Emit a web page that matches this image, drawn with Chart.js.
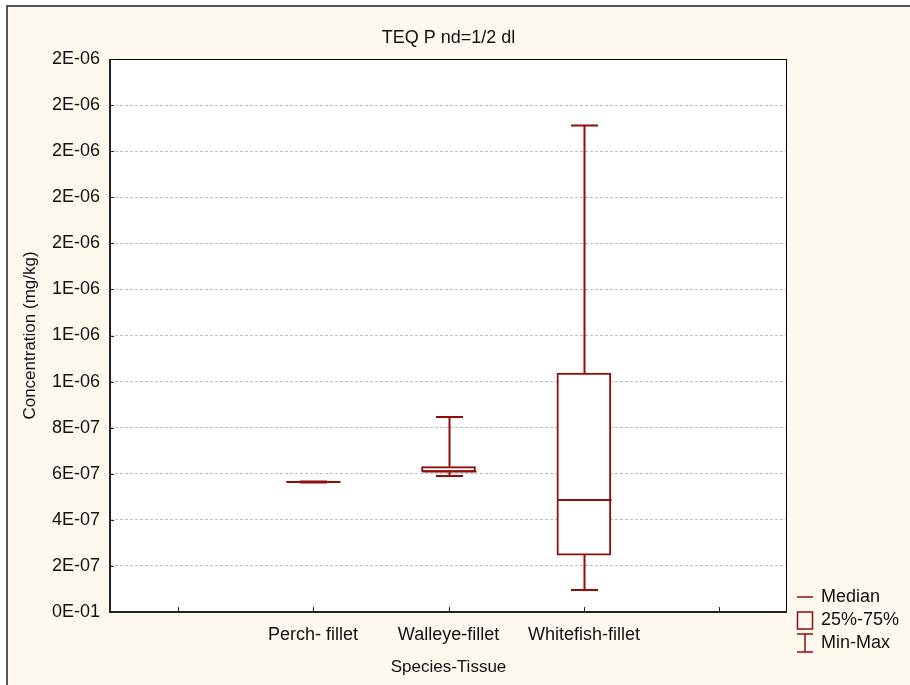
<!DOCTYPE html>
<html>
<head>
<meta charset="utf-8">
<title>TEQ P nd=1/2 dl</title>
<script src="https://cdn.jsdelivr.net/npm/chart.js@4"></script>
<style>
  html, body { margin: 0; padding: 0; background: #ffffff; }
  #wrap { width: 910px; height: 685px; }
</style>
</head>
<body>
<div id="wrap"><canvas id="boxChart" width="910" height="685"></canvas></div>
<script>
// --- Data ---
const categories = ['', 'Perch- fillet', 'Walleye-fillet', 'Whitefish-fillet', ''];
const minValues    = [null, 5.62e-7, 5.90e-7, 0.95e-7, null];
const q1Values     = [null, 5.62e-7, 6.08e-7, 2.47e-7, null];
const medianValues = [null, 5.64e-7, 6.10e-7, 4.86e-7, null];
const q3Values     = [null, 5.65e-7, 6.31e-7, 10.37e-7, null];
const maxValues    = [null, 5.66e-7, 8.46e-7, 21.11e-7, null];

const yTickValues = [0, 2e-7, 4e-7, 6e-7, 8e-7, 1.0e-6, 1.2e-6, 1.4e-6, 1.6e-6, 1.8e-6, 2.0e-6, 2.2e-6, 2.4e-6];
const yTickLabels = ['0E-01', '2E-07', '4E-07', '6E-07', '8E-07', '1E-06', '1E-06', '1E-06', '2E-06', '2E-06', '2E-06', '2E-06', '2E-06'];

const chartTitle = 'TEQ P nd=1/2 dl';
const legendItems = ['Median', '25%-75%', 'Min-Max'];

const boxColor = '#8e0e0e';
const textColor = '#111111';
const fontFamily = '"Liberation Sans", Arial, sans-serif';

// --- Background, frame, whiskers, medians, title and legend ---
const boxPlotPlugin = {
    id: 'boxPlot',
    beforeDraw(chart) {
        const { ctx, chartArea: a } = chart;
        ctx.save();
        ctx.fillStyle = '#fef9ee';
        ctx.fillRect(7, 6, chart.width - 7, chart.height - 6);
        ctx.strokeStyle = '#555555';
        ctx.lineWidth = 2;
        ctx.beginPath();
        ctx.moveTo(7, chart.height);
        ctx.lineTo(7, 6);
        ctx.lineTo(chart.width, 6);
        ctx.stroke();
        ctx.fillStyle = '#ffffff';
        ctx.fillRect(a.left, a.top, a.right - a.left, a.bottom - a.top);
        ctx.restore();
    },
    afterDatasetsDraw(chart) {
        const { ctx } = chart;
        const x = chart.scales.x, y = chart.scales.y;
        const capHalf = 13.5, boxHalf = 27;
        ctx.save();
        ctx.strokeStyle = boxColor;
        ctx.lineWidth = 2;
        categories.forEach((c, i) => {
            if (medianValues[i] == null) return;
            const cx = Math.round(x.getPixelForValue(i)) + 0.5;
            const yMin = y.getPixelForValue(minValues[i]);
            const yQ1 = y.getPixelForValue(q1Values[i]);
            const yMed = y.getPixelForValue(medianValues[i]);
            const yQ3 = y.getPixelForValue(q3Values[i]);
            const yMax = y.getPixelForValue(maxValues[i]);
            ctx.beginPath();
            // whiskers
            ctx.moveTo(cx, yQ3); ctx.lineTo(cx, yMax);
            ctx.moveTo(cx, yQ1); ctx.lineTo(cx, yMin);
            // caps
            ctx.moveTo(cx - capHalf, yMax); ctx.lineTo(cx + capHalf, yMax);
            ctx.moveTo(cx - capHalf, yMin); ctx.lineTo(cx + capHalf, yMin);
            // median
            ctx.moveTo(cx - boxHalf, yMed); ctx.lineTo(cx + boxHalf, yMed);
            ctx.stroke();
        });
        ctx.restore();
    },
    afterDraw(chart) {
        const { ctx, chartArea: a } = chart;
        const x = chart.scales.x, y = chart.scales.y;
        ctx.save();
        // plot frame
        ctx.strokeStyle = '#000000';
        ctx.lineWidth = 1;
        ctx.strokeRect(a.left + 0.5, a.top + 0.5, a.right - a.left - 1, a.bottom - a.top - 1);
        ctx.strokeStyle = '#222222';
        ctx.lineWidth = 2;
        ctx.beginPath();
        ctx.moveTo(a.left, a.top);
        ctx.lineTo(a.left, a.bottom);
        ctx.lineTo(a.right, a.bottom);
        ctx.stroke();
        // tick marks inside the frame
        ctx.lineWidth = 1;
        ctx.beginPath();
        categories.forEach((c, i) => {
            const px = Math.round(x.getPixelForValue(i)) + 0.5;
            ctx.moveTo(px, a.bottom);
            ctx.lineTo(px, a.bottom - 5);
        });
        yTickValues.forEach(v => {
            const py = Math.round(y.getPixelForValue(v)) + 0.5;
            ctx.moveTo(a.left, py);
            ctx.lineTo(a.left + 4, py);
        });
        ctx.stroke();

        // title, centred over the plot area
        ctx.fillStyle = textColor;
        ctx.font = '18px ' + fontFamily;
        ctx.textAlign = 'center';
        ctx.textBaseline = 'middle';
        ctx.fillText(chartTitle, (a.left + a.right) / 2, 38);

        // legend
        const lx = a.right + 10, tx = a.right + 34;
        const rowY = [a.bottom - 15, a.bottom + 8, a.bottom + 31];
        ctx.strokeStyle = boxColor;
        ctx.lineWidth = 1.5;
        ctx.beginPath();
        ctx.moveTo(lx, rowY[0]); ctx.lineTo(lx + 16, rowY[0]);
        ctx.stroke();
        ctx.strokeRect(lx + 0.5, rowY[1] - 8, 15, 17);
        ctx.beginPath();
        ctx.moveTo(lx, rowY[2] - 9); ctx.lineTo(lx + 16, rowY[2] - 9);
        ctx.moveTo(lx + 8, rowY[2] - 9); ctx.lineTo(lx + 8, rowY[2] + 9);
        ctx.moveTo(lx, rowY[2] + 9); ctx.lineTo(lx + 16, rowY[2] + 9);
        ctx.stroke();
        ctx.textAlign = 'left';
        legendItems.forEach((t, i) => ctx.fillText(t, tx, rowY[i]));
        ctx.restore();
    }
};

Chart.defaults.font.family = fontFamily;
Chart.defaults.color = textColor;

new Chart(document.getElementById('boxChart'), {
    type: 'bar',
    data: {
        labels: categories,
        datasets: [{
            label: '25%-75%',
            data: categories.map((c, i) => q1Values[i] == null ? null : [q1Values[i], q3Values[i]]),
            backgroundColor: '#ffffff',
            borderColor: boxColor,
            borderWidth: 2,
            borderSkipped: false,
            barThickness: 54
        }]
    },
    options: {
        responsive: false,
        animation: false,
        devicePixelRatio: 1,
        layout: { padding: { left: 0, right: 123, top: 59, bottom: 0 } },
        plugins: {
            legend: { display: false },
            tooltip: { enabled: false },
            title: { display: false }
        },
        scales: {
            x: {
                offset: true,
                grid: { display: false, drawTicks: false },
                border: { display: false },
                ticks: { font: { size: 18 }, padding: 12, autoSkip: false, maxRotation: 0 },
                title: { display: true, text: 'Species-Tissue', font: { size: 17 }, padding: { top: 0, bottom: 7 } },
                afterFit(scale) { scale.height = 73; }
            },
            y: {
                min: 0,
                max: 2.4e-6,
                grid: { color: '#bdbdbd', lineWidth: 1, drawTicks: false },
                border: { display: false, dash: [3, 2] },
                ticks: {
                    font: { size: 18 },
                    padding: 10,
                    autoSkip: false,
                    callback: (v, i) => yTickLabels[i]
                },
                afterBuildTicks(scale) { scale.ticks = yTickValues.map(v => ({ value: v })); },
                title: { display: true, text: 'Concentration (mg/kg)', font: { size: 17 }, padding: { top: 20, bottom: 0 } },
                afterFit(scale) { scale.width = 110; }
            }
        }
    },
    plugins: [boxPlotPlugin]
});
</script>
</body>
</html>
